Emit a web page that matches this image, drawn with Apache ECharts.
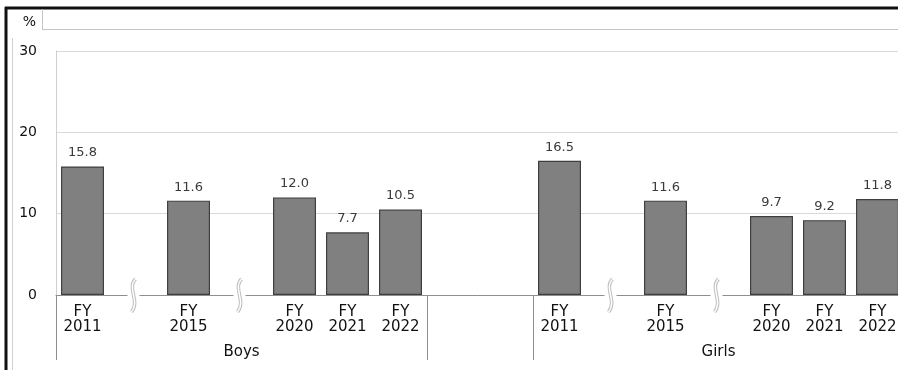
<!DOCTYPE html>
<html>
<head>
<meta charset="utf-8">
<script src="https://cdn.jsdelivr.net/npm/echarts@6/dist/echarts.min.js"></script>
<style>
  html, body { margin: 0; padding: 0; background: #fff; }
  #chart { width: 898px; height: 370px; }
</style>
</head>
<body>
<div id="chart"></div>
<script>
// Category slots: fiscal years, '' marks a break slot or the spacer between groups
const categories = [
  'FY\n2011', '', 'FY\n2015', '', 'FY\n2020', 'FY\n2021', 'FY\n2022',
  '', '',
  'FY\n2011', '', 'FY\n2015', '', 'FY\n2020', 'FY\n2021', 'FY\n2022'
];
const boysValues  = [15.8, null, 11.6, null, 12.0, 7.7, 10.5];
const girlsValues = [16.5, null, 11.6, null, 9.7, 9.2, 11.8];
const spacerValues = [null, null];
// Group captions sit under the middle slot of each group
const groupLabels = ['', '', '', 'Boys', '', '', '', '', '', '', '', '', 'Girls', '', '', ''];
const groupStarts = [0, 7, 9];
// Slots where the time axis is broken
const breakSlots = [1, 3, 10, 12];
const yTicks = [0, 10, 20, 30];
const yUnit = '%';

const values = boysValues.concat(spacerValues, girlsValues);
const FONT = "'DejaVu Sans', Verdana, sans-serif";

const chart = echarts.init(document.getElementById('chart'), null, { renderer: 'canvas' });

chart.setOption({
  animation: false,
  backgroundColor: '#fff',
  // the plot runs a little past the right edge of the canvas
  grid: { left: 56, top: 51, width: 848, bottom: 75, containLabel: false, outerBoundsMode: 'none' },
  xAxis: [
    {
      type: 'category',
      data: categories,
      position: 'bottom',
      axisLine: { show: true, lineStyle: { color: '#8f8f8f', width: 1 } },
      axisTick: { show: false },
      axisLabel: {
        interval: 0, margin: 9, color: '#111', fontSize: 15, lineHeight: 15.5,
        fontFamily: FONT
      },
      splitLine: { show: false }
    },
    {
      type: 'category',
      data: groupLabels,
      position: 'bottom',
      offset: 0,
      axisLine: { show: false },
      axisTick: {
        show: true, length: 65, inside: false,
        interval: function (index) { return groupStarts.indexOf(index) >= 0; },
        lineStyle: { color: '#8f8f8f', width: 1 }
      },
      axisLabel: {
        interval: 0, margin: 50, color: '#111', fontSize: 15, fontFamily: FONT
      },
      splitLine: { show: false }
    }
  ],
  yAxis: {
    type: 'value',
    min: yTicks[0],
    max: yTicks[yTicks.length - 1],
    interval: yTicks[1] - yTicks[0],
    axisLine: { show: true, lineStyle: { color: '#cfcfcf' } },
    axisTick: { show: false },
    axisLabel: { margin: 19, color: '#111', fontSize: 14, fontFamily: FONT },
    splitLine: { show: true, lineStyle: { color: '#d9d9d9', width: 1 } }
  },
  graphic: [
    // outer frame (top and left)
    { type: 'line', shape: { x1: 5, y1: 8, x2: 898, y2: 8 }, style: { stroke: '#111', lineWidth: 3 }, silent: true },
    { type: 'line', shape: { x1: 6, y1: 7, x2: 6, y2: 370 }, style: { stroke: '#111', lineWidth: 3 }, silent: true },
    // header cell borders
    { type: 'line', shape: { x1: 42, y1: 29.5, x2: 898, y2: 29.5 }, style: { stroke: '#c4c4c4', lineWidth: 1 }, silent: true },
    { type: 'line', shape: { x1: 42.5, y1: 9, x2: 42.5, y2: 29 }, style: { stroke: '#c4c4c4', lineWidth: 1 }, silent: true },
    { type: 'line', shape: { x1: 12.5, y1: 38, x2: 12.5, y2: 370 }, style: { stroke: '#d0d0d0', lineWidth: 1 }, silent: true },
    // unit caption
    {
      type: 'text', x: 36, y: 22, silent: true,
      style: { text: yUnit, fill: '#111', font: '14px ' + FONT, align: 'right', verticalAlign: 'middle' }
    }
  ],
  series: [
    {
      type: 'bar',
      xAxisIndex: 0,
      data: values,
      barWidth: 43,
      itemStyle: { color: '#808080', borderColor: '#3f3f3f', borderWidth: 1.2 },
      label: {
        show: true, position: 'top', distance: 7,
        color: '#3a3a3a', fontSize: 13, fontFamily: FONT,
        formatter: function (p) { return p.value == null ? '' : p.value.toFixed(1); }
      }
    },
    {
      // axis break markers
      type: 'custom',
      xAxisIndex: 0,
      data: breakSlots.map(function (s) { return [s, 0]; }),
      z: 5,
      silent: true,
      renderItem: function (params, api) {
        const p = api.coord([api.value(0), api.value(1)]);
        const cx = p[0] - 2, cy = p[1];
        const d = 'M' + (cx + 2) + ' ' + (cy - 16) +
          ' C' + (cx - 7) + ' ' + (cy - 7) + ' ' + (cx + 7) + ' ' + (cy + 6) + ' ' + (cx - 2) + ' ' + (cy + 17);
        return {
          type: 'group',
          children: [
            { type: 'rect', shape: { x: cx - 6, y: cy - 2, width: 12, height: 4 }, style: { fill: '#fff' } },
            { type: 'path', shape: { pathData: d }, style: { fill: 'none', stroke: '#bdbdbd', lineWidth: 3.5 } },
            { type: 'path', shape: { pathData: d }, style: { fill: 'none', stroke: '#fff', lineWidth: 1.5 } }
          ]
        };
      }
    }
  ]
});
</script>
</body>
</html>
